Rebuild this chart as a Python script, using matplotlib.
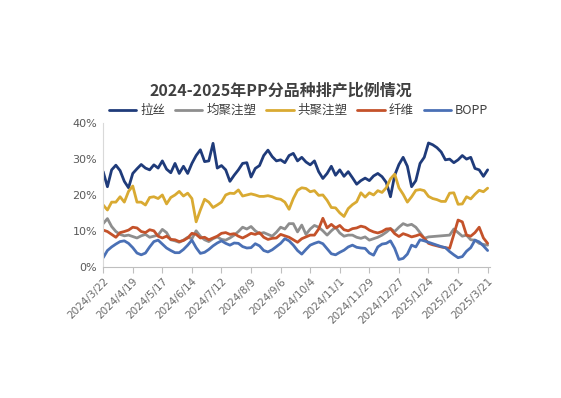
import matplotlib
matplotlib.use("Agg")
import matplotlib.pyplot as plt
import numpy as np
import pandas as pd

plt.rcParams['font.family'] = ['Noto Sans CJK SC', 'DejaVu Sans']

title = "2024-2025年PP分品种排产比例情况"
series_names = ["拉丝", "均聚注塑", "共聚注塑", "纤维", "BOPP"]
colors = ["#1F3B7A", "#8E8E8E", "#D9AA32", "#C4522A", "#4A70B5"]

# sample dates: every 4 days from 2024/3/22 to 2025/3/21
dates = pd.date_range("2024-03-22", periods=92, freq="4D")

lasi = [26.5, 22.3, 27, 28.3, 26.8, 23.8, 22, 26, 27.3, 28.5,
        27.5, 27, 28.4, 27.5, 29.5, 27.2, 26.2, 28.8, 26, 28,
        26, 28.8, 31, 32.6, 29.3, 29.5, 34.4, 27.5, 28.2, 27,
        23.8, 25.5, 27, 28.8, 29, 25, 27.4, 28.2, 31, 32.5,
        30.7, 29.5, 29.8, 29, 31, 31.6, 29.5, 30.5, 29.2, 28.4,
        29.5, 26.5, 24.6, 26, 28, 25.5, 27, 25.2, 26.5, 24.8,
        23, 24, 24.7, 24, 25.3, 26, 25.1, 23.5, 19.5, 25.5,
        28.5, 30.5, 28, 22.3, 24, 28.8, 30.5, 34.5, 34, 33.2,
        32, 29.8, 30, 29, 29.8, 31, 30, 30.5, 27.4, 27,
        25.2, 27]

junju = [12.0, 13.4, 11.2, 9.8, 9.0, 8.6, 8.8, 8.4, 8.0, 8.6,
         9.0, 8.2, 8.5, 8.8, 10.4, 9.5, 7.5, 7.2, 6.8, 7.4,
         8.2, 7.8, 10.0, 8.5, 7.5, 7.0, 7.8, 8.3, 7.6, 7.4,
         8.0, 8.8, 9.8, 11.0, 10.5, 11.2, 10.0, 9.2, 9.5, 9.0,
         8.5, 9.6, 11.0, 10.5, 12.0, 12.0, 9.7, 11.6, 9.0, 10.5,
         11.5, 11.0, 10.0, 8.8, 10.0, 11.0, 9.4, 8.5, 8.8, 8.8,
         8.2, 7.9, 8.3, 7.4, 7.8, 8.2, 8.8, 9.6, 10.6, 9.8,
         11.0, 12.0, 11.5, 11.8, 11.0, 9.5, 7.9, 8.3, 8.4, 8.5,
         8.6, 8.7, 8.8, 10.5, 9.5, 8.5, 8.8, 7.5, 7.4, 6.5,
         6.2, 6.0]

gongju = [17.2, 15.8, 18, 18, 19.5, 18, 21, 22.5, 18, 18,
          17.2, 19.3, 19.5, 19, 20, 17.5, 19.3, 20, 21, 19.7,
          20.5, 19, 12.5, 15.8, 18.8, 18, 16.5, 17.2, 18, 20,
          20.5, 20.4, 21.4, 19.7, 20, 20.3, 20, 19.6, 19.6, 19.8,
          19.5, 19, 18.8, 18, 16, 19, 21.3, 22, 21.8, 20.9,
          21.2, 19.9, 20, 18.5, 16.5, 16.4, 15, 14, 16.2, 17.3,
          18.1, 20.6, 19.4, 20.6, 20, 21.2, 20.7, 22, 24.5, 25.8,
          22, 20.2, 18, 19.5, 21.3, 21.5, 21.2, 19.6, 19, 18.7,
          18.2, 18.2, 20.5, 20.6, 17.4, 17.5, 19.5, 18.9, 20.2, 21.3,
          20.9, 21.9]

xianwei = [10.2, 9.8, 9.0, 8.2, 9.5, 9.8, 10.2, 11.0, 10.8, 9.8,
           9.5, 10.3, 10.0, 8.5, 8.0, 8.5, 7.6, 7.5, 7.0, 7.3,
           8.0, 9.3, 9.0, 8.0, 8.2, 7.5, 8.0, 8.5, 9.3, 9.5,
           9.0, 9.2, 8.5, 8.0, 8.6, 9.3, 9.0, 9.5, 8.2, 7.6,
           7.9, 8.0, 9.0, 8.6, 8.2, 7.5, 6.8, 7.8, 8.3, 8.8,
           8.8, 10.5, 13.5, 10.8, 11.8, 10.8, 11.5, 10.3, 10.0, 10.6,
           10.8, 11.3, 11.0, 10.2, 9.7, 9.4, 9.8, 10.5, 10.6, 9.2,
           8.4, 9.2, 8.8, 8.3, 8.6, 9.0, 7.9, 6.5, 6.1, 5.8,
           5.5, 5.3, 5.1, 9.0, 13.0, 12.5, 8.8, 8.5, 9.5, 11.0,
           8.0, 6.5]

bopp = [2.5, 4.5, 5.5, 6.3, 7.0, 7.2, 6.5, 5.3, 3.8, 3.3,
        3.8, 5.5, 7.0, 7.4, 6.3, 5.2, 4.5, 3.9, 3.9, 4.8,
        6.0, 7.4, 5.3, 3.7, 4.0, 4.8, 5.8, 6.6, 7.2, 6.5,
        6.0, 6.6, 6.5, 5.6, 5.2, 5.3, 6.4, 5.8, 4.5, 4.1,
        4.7, 5.6, 6.5, 7.8, 7.2, 6.0, 4.5, 3.5, 4.8, 6.0,
        6.5, 6.9, 6.4, 5.0, 3.6, 3.3, 4.0, 4.6, 5.5, 6.0,
        5.4, 5.2, 5.1, 3.8, 3.2, 5.5, 6.3, 6.5, 7.2, 5.1,
        2.0, 2.3, 3.5, 6.0, 5.5, 7.5, 7.2, 6.8, 6.4, 6.0,
        5.6, 5.3, 4.2, 3.3, 2.5, 2.8, 4.3, 5.3, 7.4, 6.9,
        5.8, 4.5]

tick_labels = ["2024/3/22", "2024/4/19", "2024/5/17", "2024/6/14", "2024/7/12",
               "2024/8/9", "2024/9/6", "2024/10/4", "2024/11/1", "2024/11/29",
               "2024/12/27", "2025/1/24", "2025/2/21", "2025/3/21"]
y_ticks = [0, 10, 20, 30, 40]

fig = plt.figure(figsize=(5.61, 3.98), dpi=100)
ax = fig.add_axes([0.183, 0.330, 0.690, 0.3603])

all_series = [lasi, junju, gongju, xianwei, bopp]
for name, vals, c in zip(series_names, all_series, colors):
    ax.plot(dates, np.array(vals) / 100.0, color=c, lw=2.0, label=name,
            solid_joinstyle='round', solid_capstyle='round')

ax.set_ylim(0, 0.40)
ax.set_yticks([v / 100 for v in y_ticks])
ax.set_yticklabels([f"{v}%" for v in y_ticks], fontsize=8, color="#595959",
                   family=['DejaVu Sans'])
ax.tick_params(axis='y', length=0, pad=4)

tick_dates = [pd.Timestamp(*map(int, t.split("/"))) for t in tick_labels]
ax.set_xlim(pd.Timestamp("2024-03-21 12:00"), pd.Timestamp("2025-03-23"))
ax.set_xticks(tick_dates)
ax.set_xticklabels(tick_labels, rotation=45, ha='right', va='top',
                   rotation_mode='anchor', fontsize=7.5, color="#6A6A6A",
                   family=['DejaVu Sans'])
ax.tick_params(axis='x', length=4, width=0.8, color="#BFBFBF", pad=3)

for s in ['top', 'right']:
    ax.spines[s].set_visible(False)
ax.spines['left'].set_color("#D9D9D9")
ax.spines['bottom'].set_color("#BFBFBF")
ax.spines['left'].set_linewidth(0.8)
ax.spines['bottom'].set_linewidth(0.8)

fig.text(0.50, 0.773, title, ha='center', va='center', fontsize=11.5,
         fontweight='bold', color="#404040")

fig.legend(loc='center', bbox_to_anchor=(0.532, 0.722), ncol=5, frameon=False,
           fontsize=9, handlelength=2.2, handletextpad=0.3, columnspacing=0.8,
           labelcolor="#404040")

fig.savefig("out.png", dpi=100, facecolor="white")
